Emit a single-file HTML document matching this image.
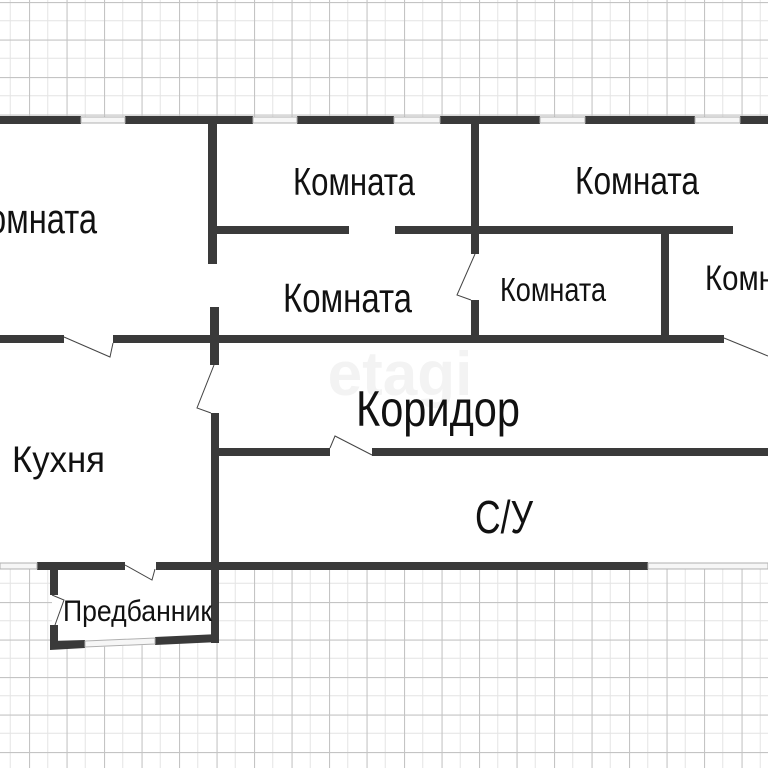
<!DOCTYPE html>
<html><head><meta charset="utf-8"><style>
html,body{margin:0;padding:0;background:#fff;}
svg{display:block;}
text{font-family:"Liberation Sans Narrow","Liberation Sans",sans-serif;fill:#111;}
</style></head><body>
<svg width="768" height="768" viewBox="0 0 768 768" xmlns="http://www.w3.org/2000/svg">
<defs>
<pattern id="g" x="-8.5" y="2" width="37.5" height="37.5" patternUnits="userSpaceOnUse">
<line x1="18.75" y1="0" x2="18.75" y2="37.5" stroke="#e4e4e4" stroke-width="1"/>
<line x1="0" y1="18.75" x2="37.5" y2="18.75" stroke="#e4e4e4" stroke-width="1"/>
<line x1="0.5" y1="0" x2="0.5" y2="37.5" stroke="#c4c4c4" stroke-width="1.2"/>
<line x1="0" y1="0.5" x2="37.5" y2="0.5" stroke="#c4c4c4" stroke-width="1.2"/>
</pattern>
</defs>
<rect width="768" height="768" fill="#fff"/>
<rect width="768" height="768" fill="url(#g)"/>
<rect x="0" y="118" width="768" height="450" fill="#fff"/>
<polygon points="52,568 218,568 218,642 52,649" fill="#fff"/>
<text x="400" y="395" font-size="62" font-weight="bold" style="fill:#f3f3f3" font-family="Liberation Sans" text-anchor="middle">etagi</text>

<g fill="#3a3a3a">
<rect x="0" y="116" width="81" height="8"/>
<rect x="125" y="116" width="128" height="8"/>
<rect x="297" y="116" width="97" height="8"/>
<rect x="440" y="116" width="100" height="8"/>
<rect x="585" y="116" width="110" height="8"/>
<rect x="740" y="116" width="28" height="8"/>
<rect x="208" y="116" width="9" height="148"/>
<rect x="210" y="307" width="9" height="58"/>
<rect x="211" y="413" width="8" height="230"/>
<rect x="216" y="226" width="133" height="8"/>
<rect x="395" y="226" width="338" height="8"/>
<rect x="471" y="124" width="8" height="130"/>
<rect x="471" y="300" width="8" height="40"/>
<rect x="661" y="234" width="8" height="104"/>
<rect x="0" y="335" width="64" height="8"/>
<rect x="113" y="335" width="611" height="8"/>
<rect x="219" y="448" width="111" height="8"/>
<rect x="372" y="448" width="396" height="8"/>
<rect x="37" y="562" width="88" height="8"/>
<rect x="156" y="562" width="492" height="8"/>
<rect x="50" y="569" width="8" height="26"/>
<rect x="50" y="625" width="8" height="24"/>
<polygon points="50,641 85,640 85,648 50,650"/>
<polygon points="155,637 219,634 219,642 155,645"/>
</g>
<g fill="#f6f6f6" stroke="#b0b0b0" stroke-width="1">
<rect x="81" y="117" width="44" height="6"/>
<rect x="253" y="117" width="44" height="6"/>
<rect x="394" y="117" width="46" height="6"/>
<rect x="540" y="117" width="45" height="6"/>
<rect x="695" y="117" width="45" height="6"/>
<rect x="0" y="563" width="37" height="6"/>
<rect x="648" y="563" width="120" height="6"/>
<polygon points="85,641 155,638 155,644 85,647"/>
</g>
<g fill="none" stroke="#444" stroke-width="1">
<polyline points="64,337 110,357 113,343"/>
<polyline points="724,338 768,356"/>
<polyline points="214,365 197,408 211,413"/>
<polyline points="330,448 335,436 372,455"/>
<polyline points="125,565 152,580 155,569"/>
<polyline points="52,595 64,600 55,625"/>
<polyline points="475,254 457,295 471,300"/>
</g>
<text x="97" y="233" font-size="42" text-anchor="end" textLength="128" lengthAdjust="spacingAndGlyphs">Комната</text>
<text x="293" y="195" font-size="39" textLength="122" lengthAdjust="spacingAndGlyphs">Комната</text>
<text x="575" y="194" font-size="39" textLength="124" lengthAdjust="spacingAndGlyphs">Комната</text>
<text x="283" y="312" font-size="41" textLength="129" lengthAdjust="spacingAndGlyphs">Комната</text>
<text x="500" y="301" font-size="33" textLength="106" lengthAdjust="spacingAndGlyphs">Комната</text>
<text x="705" y="290" font-size="35" textLength="115" lengthAdjust="spacingAndGlyphs">Комната</text>
<text x="356" y="426" font-size="50" textLength="164" lengthAdjust="spacingAndGlyphs">Коридор</text>
<text x="12" y="472" font-size="37" textLength="93" lengthAdjust="spacingAndGlyphs">Кухня</text>
<text x="475" y="533" font-size="46" textLength="58" lengthAdjust="spacingAndGlyphs">С/У</text>
<text x="63" y="621" font-size="30" textLength="149" lengthAdjust="spacingAndGlyphs">Предбанник</text>
</svg>
</body></html>
